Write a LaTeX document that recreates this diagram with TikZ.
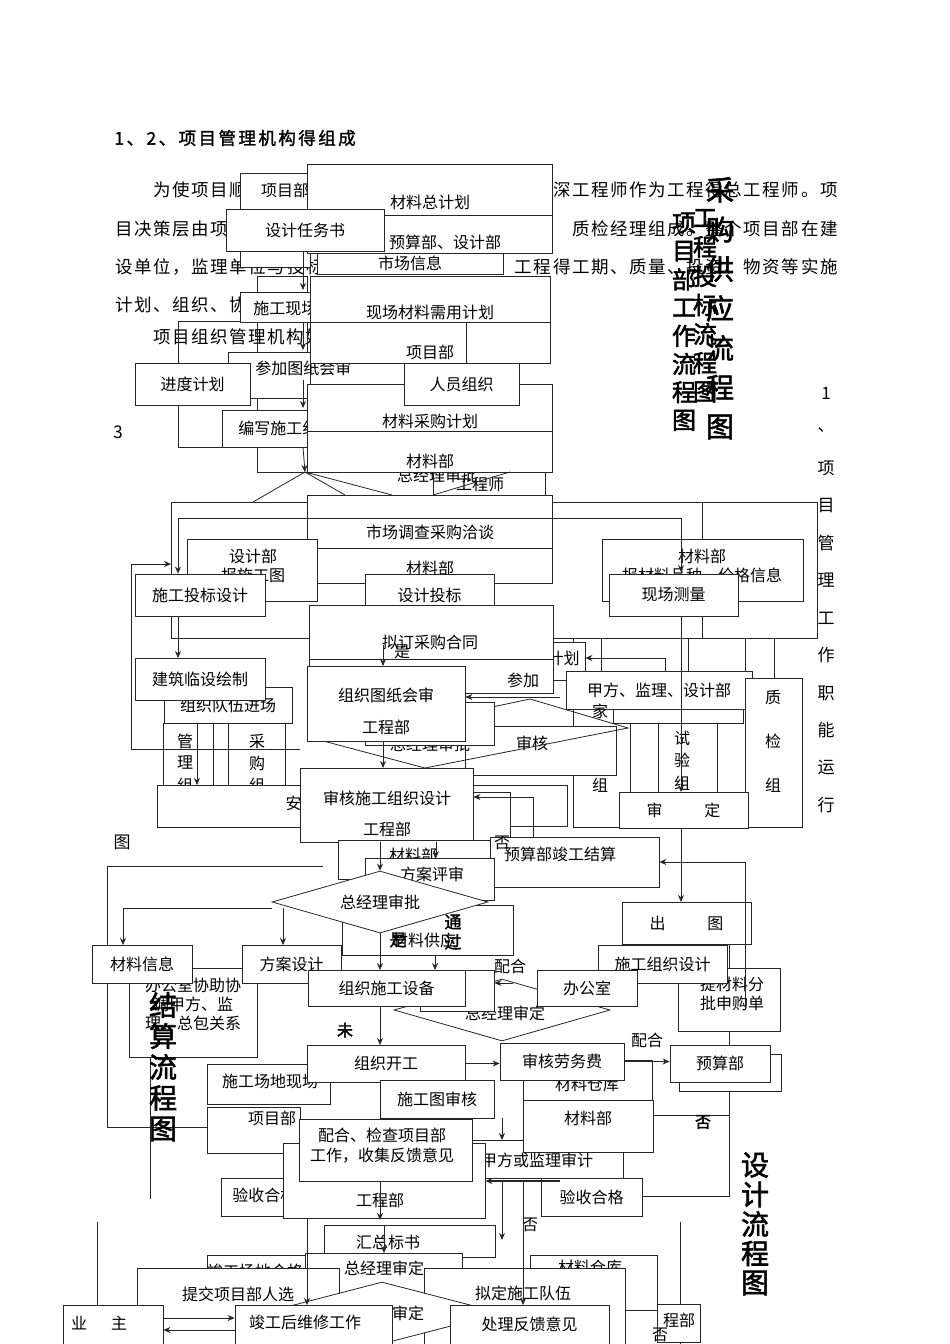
\documentclass[tikz,border=0pt]{standalone}
\usepackage{fontspec}
\setmainfont{Noto Sans CJK SC}
\newfontfamily\ttlfont[FakeBold=2]{Noto Sans CJK SC}
\newfontfamily\parafam[LetterSpace=9]{Noto Sans CJK SC}
\newfontfamily\headfam[LetterSpace=14,FakeBold=1.5]{Noto Sans CJK SC}
\usetikzlibrary{arrows.meta,shapes.geometric}
\newcommand\boxfont{\fontsize{16}{16}\selectfont}

\begin{document}
\begin{tikzpicture}[x=1pt,y=-1pt,>={Stealth[length=7pt,width=6pt]},line width=0.8pt,draw=black!85,
 box/.style={draw,fill=white,inner sep=0pt,font=\boxfont},
 lbl/.style={inner sep=0pt,font=\boxfont},
 para/.style={inner sep=0pt,anchor=west,font=\parafam\fontsize{17.5}{17.5}\selectfont},
 dia/.style={draw,fill=white,diamond,aspect=3.5,inner sep=0pt,font=\boxfont},
 vt/.style={inner sep=0pt,font=\ttlfont\fontsize{26}{26}\selectfont},
 vs/.style={inner sep=0pt,font=\fontsize{17}{17}\selectfont}]
\useasboundingbox (0,0) rectangle (950,1344);

% text of the page
\node[para,font=\headfam\fontsize{17.5}{17.5}\selectfont](hd)at(114,138){1、2、项目管理机构得组成};
\node[para](p1a)at(153,190){为使项目顺};
\node[para,anchor=east](p1b)at(838,190){深工程师作为工程得总工程师。项};
\node[para](p2a)at(115,229){目决策层由项};
\node[para,anchor=east](p2b)at(838,229){质检经理组成。整个项目部在建};
\node[para](p3a)at(115,267){设单位，监理单位与投标};
\node[para,anchor=east](p3b)at(838,267){工程得工期、质量、投资、物资等实施};
\node[para](p4a)at(115,305){计划、组织、协调};
\node[para](p5a)at(153,337){项目组织管理机构如};
\node[para](n3)at(113,432){3};

% top flow
\draw (178,321) rectangle (310,447);
\draw (257,276) rectangle (307,472);
\node[box,minimum width=70,minimum height=94](xmb)at(275,220){};
\node[lbl](xmbT)at(285,190){项目部};
\node[box,minimum width=70,minimum height=30](sgxc)at(275,307){};
\node[lbl,anchor=west](sgxcT)at(253,308){施工现场};
\node[box,minimum width=82,minimum height=46](cjtz)at(269,375){};
\node[lbl,anchor=west](cjtzT)at(255,368){参加图纸会审};
\node[box,minimum width=88,minimum height=37](bxsg)at(266,428.5){};
\node[lbl,anchor=west](bxsgT)at(238,428){编写施工组织设计};
\node[box,minimum width=115,minimum height=42](jdjh)at(192.5,384){进度计划};
\node[box,minimum width=245,minimum height=38](ysb)at(429.5,234){};
\node[lbl](ysbT)at(445,242){预算部、设计部};
\node[box,minimum width=245,minimum height=51](clzjh)at(429.5,189.5){};
\node[lbl](clzjhT)at(430,202){材料总计划};
\node[box,minimum width=158,minimum height=42](sjrw)at(305,230){设计任务书};
\node[box,minimum width=186,minimum height=21](scxx)at(410,263.5){市场信息};
\node[box,minimum width=240,minimum height=87](xcxy)at(430,319.5){};
\draw (310,322)--(550,322);
\node[lbl](xcxyT)at(430,312){现场材料需用计划};
\node[box,minimum width=156,minimum height=41](xmb2)at(388,342.5){};
\node[lbl](xmb2T)at(430,352){项目部};
\node[lbl](zjlT1)at(437,475){总经理审批};
\node[lbl](gcsT)at(480,484){工程师};
\node[box,minimum width=245,minimum height=88](clcg)at(429.5,428){};
\draw (307,431)--(552,431);
\node[lbl](clcgT)at(430,421){材料采购计划};
\node[lbl](clbT)at(430,461){材料部};
\node[box,minimum width=115,minimum height=42](ryzz)at(461.5,384){人员组织};
\coordinate (apx) at (305,472);
\draw (apx)--(253,502) (apx)--(345,495) (apx)--(392,495) (433,495)--(510,472);
\draw (433,472)--(433,495) (545,472)--(545,495);
\draw[->] (303,251)--(303,290);
\draw[->] (303,322)--(303,350);
\draw[->] (303,380)--(303,408);
\draw[->] (303,447)--(apx);

% middle flow
\draw (171,502) rectangle (817,638);
\draw (573,638) rectangle (745,827);
\draw (702,502)--(702,539) (702,616)--(702,638) (774,638)--(774,678);
\draw (601,638)--(601,671) (688,638)--(688,671);
\draw (630,723)--(630,792) (717,723)--(717,792) (658,723)--(658,792);
\draw (163,723)--(163,785) (213,723)--(213,785) (228,723)--(228,785) (285,723)--(285,785);
\node[box,minimum width=245,minimum height=88](scdc)at(429.5,539){};
\draw (307,548)--(552,548);
\node[lbl](scdcT)at(430,532){市场调查采购洽谈};
\node[lbl](clb2T)at(430,568){材料部};
\node[box,minimum width=130,minimum height=62](sjb)at(252,570){};
\node[lbl](sjbT1)at(253,556){设计部};
\node[lbl](sjbT2)at(253,575){报施工图};
\node[box,minimum width=130,minimum height=42](sgtb)at(200,595){施工投标设计};
\node[box,minimum width=129,minimum height=42](sjtb)at(429.5,595){设计投标};
\node[box,minimum width=201,minimum height=62](clbb)at(702.5,570){};
\node[lbl](clbbT1)at(702,556){材料部};
\node[lbl](clbbT2)at(702,575){报材料品种、价格信息};
\node[box,minimum width=129,minimum height=42](xccl)at(673.5,595){现场测量};
\draw[->] (178,518)--(681,518)--(681,572);
\draw[->] (178,518)--(sgtb.north -| 178,0);
\node[box,minimum width=65,minimum height=38](jh2)at(552.5,661){};
\node[lbl,anchor=east](jh2T)at(580,658){计划};
\node[box,minimum width=244,minimum height=88](ndcg)at(431,649){};
\draw (309,659)--(553,659);
\node[lbl](ndcgT)at(430,642){拟订采购合同};
\node[lbl](shi1)at(402,652){是};
\node[lbl](cj2)at(523,680){参加};
\node[box,minimum width=130,minimum height=33](jfs)at(678,706.5){};
\node[box,minimum width=186,minimum height=38](jfjl)at(659,690){甲方、监理、设计部};
\node[box,minimum width=57,minimum height=149](zjz)at(773.5,752.5){};
\foreach \c/\y [count=\i] in {质/697,检/741,组/785} \node[lbl](zj\i)at(773,\y){\c};
\foreach \c/\y [count=\i] in {试/738,验/760,组/783} \node[lbl](sy\i)at(682,\y){\c};
\node[lbl](jia)at(600,711){家};
\node[lbl](zu1)at(600,785){组};
\node[box,minimum width=128,minimum height=36](zzdw)at(228,705){组织队伍进场};
\node[box,minimum width=130,minimum height=42](jzls)at(200,679){建筑临设绘制};
\foreach \c/\y [count=\i] in {管/741,理/763,组/785} \node[lbl](gl\i)at(185,\y){\c};
\foreach \c/\y [count=\i] in {采/741,购/763,组/785} \node[lbl](cgz\i)at(257,\y){\c};
\node[box,minimum width=143,minimum height=42](anq)at(228.5,806){};
\node[lbl,anchor=east](anqT)at(302,803){安};
\node[box,minimum width=151,minimum height=49](shk)at(540.5,750.5){};
\node[lbl](shkT)at(532,743){审核};
\node[lbl](zjlT2)at(430,744){总经理审批};
\draw (327,742)--(530,699)--(628,728)--(425,768)--cycle;
\node[box,minimum width=129,minimum height=43](zzs)at(429.5,723.5){};
\node[box,minimum width=158,minimum height=75](zztz)at(386,703.5){};
\node[lbl](zztzT1)at(386,695){组织图纸会审};
\node[lbl](zztzT2)at(386,727){工程部};
\node[box,minimum width=97,minimum height=41](shr)at(518.5,805.5){};
\node[box,minimum width=70,minimum height=58](shr2)at(475,821){};
\node[box,minimum width=173,minimum height=74](shsg)at(386.5,805){};
\node[lbl](shsgT1)at(387,798){审核施工组织设计};
\node[lbl](shsgT2)at(387,829){工程部};
\node[box,minimum width=129,minimum height=36](shd)at(683.5,810){审\hspace{2.6em}定};
\draw[->] (300,749)--(131,749)--(131,564)--(171,564);
\draw[->] (178,616)--(178,658);
\draw[->] (383,645)--(383,666);
\draw[->] (383,741)--(383,768);
\draw[->] (560,697)--(zztz.east |- 0,697);
\draw[->] (533,850)--(533,797)--(shsg.east |- 0,797);
\draw[->] (665,671)--(665,658)--(jh2.east |- 0,658);
\draw[->] (197,723)--(197,785);
\draw[->] (681,616)--(681,792);
\node[vs](tu1)at(122,842){图};

% lower flow
\draw (107,866)--(323,866) (107,866)--(107,1127)--(207,1127);
\draw (150,945)--(150,1199);
\draw (97,1222)--(97,1305) (680,1222)--(680,1344);
\draw (729,944)--(729,1196)--(642,1196) (653,1115)--(729,1115);
\node[box,minimum width=172,minimum height=39](clb3)at(424,859.5){};
\node[lbl](clb3T)at(413,855){材料部};
\node[box,minimum width=169,minimum height=50](ysjg)at(574.5,862){};
\node[lbl](ysjgT)at(560,854){预算部竣工结算};
\node[box,minimum width=129,minimum height=42](faps)at(429.5,879){};
\node[lbl](fapsT)at(432,874){方案评审};
\node[box,minimum width=171,minimum height=50](clgy)at(427.5,930.5){};
\node[lbl](clgyT)at(424,940){材料供应};
\node[dia,minimum width=216,minimum height=62](zjsp)at(380,902){总经理审批};
\node[vt,font=\ttlfont\fontsize{17}{17}\selectfont](shi2)at(398,940){是};
\node[vt,font=\ttlfont\fontsize{17}{17}\selectfont](tg1)at(453,922){通};
\node[vt,font=\ttlfont\fontsize{17}{17}\selectfont](tg2)at(453,942){过};
\node[box,minimum width=129,minimum height=42](chut)at(686.5,923){出\hspace{2.6em}图};
\node[box,minimum width=128,minimum height=89](bgsx)at(193,1012.5){};
\node[lbl,align=center,font=\fontsize{16}{19}\selectfont](bgsxT)at(193,1004){办公室协助协\\调甲方、监\\理、总包关系};
\node[box,minimum width=100,minimum height=38](clxx)at(142,964){材料信息};
\node[box,minimum width=99,minimum height=38](fasj)at(291.5,964){方案设计};
\node[box,minimum width=102,minimum height=63](tcl)at(729,999.5){};
\node[lbl,align=center,font=\fontsize{16}{19}\selectfont](tclT)at(732,994){提材料分\\批申购单};
\node[box,minimum width=129,minimum height=38](sgzz)at(662.5,964){施工组织设计};
\node[dia,minimum width=216,minimum height=62](zjsd)at(502,1010){};
\node[lbl](zjsdT)at(505,1013){总经理审定};
\node[box,minimum width=74,minimum height=41](zzsb2)at(457,990.5){};
\node[box,minimum width=157,minimum height=36](zzsb)at(386.5,988){组织施工设备};
\node[box,minimum width=100,minimum height=36](bgs)at(587,988){办公室};
\node[lbl](ph1)at(510,966){配合};
\node[lbl](ph2)at(647,1040){配合};
\node[vt,font=\ttlfont\fontsize{16}{16}\selectfont](wei)at(345,1030){未};
\node[box,minimum width=129,minimum height=40](clck)at(587.5,1080){};
\node[lbl](clckT)at(587,1084){材料仓库};
\node[box,minimum width=123,minimum height=40](sgcd)at(268.5,1084){};
\node[lbl](sgcdT)at(270,1081){施工场地现场};
\node[box,minimum width=158,minimum height=37](zzkg)at(386,1063.5){组织开工};
\node[box,minimum width=124,minimum height=37](shlw)at(562,1061.5){审核劳务费};
\node[box,minimum width=102,minimum height=37](ysb3s)at(730,1072.5){};
\node[box,minimum width=100,minimum height=37](ysb3)at(720,1063.5){预算部};
\node[box,minimum width=114,minimum height=38](sgtsh)at(437,1099){施工图审核};
\node[box,minimum width=153,minimum height=38](jfsj)at(546.5,1159){};
\node[lbl](jfsjT)at(537,1160){甲方或监理审计};
\node[box,minimum width=130,minimum height=52](clb4)at(588,1126){};
\node[lbl](clb4T)at(588,1118){材料部};
\node[box,minimum width=93,minimum height=46](xmb4)at(253.5,1130){};
\node[lbl](xmb4T)at(272,1118){项目部};
\node[box,minimum width=79,minimum height=38](ysh1)at(260.5,1197){};
\node[lbl,anchor=west](ysh1T)at(232,1195){验收合格};
\node[box,minimum width=202,minimum height=75](gcb5)at(384,1180.5){};
\node[lbl](gcb5T)at(380,1200){工程部};
\node[box,minimum width=173,minimum height=62](phjc)at(385.5,1150.5){};
\node[lbl,align=center,font=\fontsize{16}{20}\selectfont](phjcT)at(382,1146){配合、检查项目部\\工作，收集反馈意见};
\node[box,minimum width=101,minimum height=38](ysh2)at(591.5,1197){验收合格};
\node[box,minimum width=171,minimum height=32](hzbs)at(409.5,1241){};
\node[lbl](hzbsT)at(388,1242){汇总标书};
\node[box,minimum width=98,minimum height=40](jgcd)at(256,1275){};
\node[lbl](jgcdT)at(255,1271){竣工场地合格};
\node[box,minimum width=157,minimum height=65](zjsd2)at(383.5,1285.5){};
\node[lbl](zjsd2T)at(384,1268){总经理审定};
\node[box,minimum width=127,minimum height=55](clck2)at(593.5,1282.5){};
\node[lbl](clck2T)at(590,1267){材料仓库};
\node[box,minimum width=202,minimum height=76](tjxm)at(238,1306){};
\node[lbl](tjxmT)at(238,1294){提交项目部人选};
\node[box,minimum width=201,minimum height=76](ndsg)at(524.5,1306){};
\node[lbl](ndsgT)at(523,1293){拟定施工队伍};
\node[dia,minimum width=238,minimum height=62](zjsd3)at(382,1313){};
\node[lbl](zjsd3T)at(384,1313){总经理审定};
\node[box,minimum width=100,minimum height=39](yz)at(113,1324.5){};
\node[lbl](yzT)at(99,1323){业\hspace{1.5em}主};
\node[box,minimum width=157,minimum height=39](jgwx)at(313.5,1324.5){};
\node[lbl](jgwxT)at(305,1322){竣工后维修工作};
\node[box,minimum width=159,minimum height=39](clfk)at(529.5,1324.5){处理反馈意见};
\node[box,minimum width=43,minimum height=38](cb)at(678.5,1323){};
\node[lbl](cbT)at(679,1320){程部};
\node[lbl](fou1)at(502,843){否};
\node[vt,font=\ttlfont\fontsize{16}{16}\selectfont](fou2)at(703,1122){否};
\node[lbl](fou3)at(530,1225){否};
\node[lbl](fou4)at(660,1335){否};
\draw[->] (shsg.south -| zjsp.north)--(zjsp.north);
\draw[->] (436,842)--(436,858);
\draw[->] (272,908)-|(123,945);
\draw[->] (283,908)--(283,945);
\draw[->] (zjsp.south)--(380,970);
\draw[->] (435,955)--(435,970);
\draw[->] (380,1006)--(380,1045);
\draw[->] (513,983)--(zzsb2.east |- 0,983);
\draw[->] (zzkg.east)--(zzkg.east -| shlw.west);
\draw[->] (shlw.east)--(shlw.east -| ysb3.west);
\draw[->] (681,828)--(681,902);
\draw[->] (745,1010)--(745,862)--(ysjg.east);
\draw[->] (380,1182)--(380,1220);
\draw[->] (384,1225)--(384,1253);
\draw[->] (307,1218)--(307,1305);
\draw[->] (523,1181)--(523,1305);
\draw[->] (502,1118)--(502,1140);
\draw[->] (502,1181)--(502,1240);
\draw[->,line width=1.4pt] (560,1181)--(gcb5.east |- 0,1181);
\draw[->] (yz.east |- 0,1318)--(jgwx.west |- 0,1318);
\draw[->] (jgwx.west |- 0,1330)--(yz.east |- 0,1330);

% titles
\foreach \c [count=\i] in {项,目,部,工,作,流,程,图} \node[vt,font=\ttlfont\fontsize{24}{24}\selectfont](xmt\i)at(684,{223+(\i-1)*28.2}){\c};
\foreach \c [count=\i] in {工,程,投,标,流,程,图} \node[vt,font=\ttlfont\fontsize{24}{24}\selectfont](tbt\i)at(705,{218+(\i-1)*29}){\c};
\foreach \c [count=\i] in {采,购,供,应,流,程,图} \node[vt,font=\ttlfont\fontsize{28}{28}\selectfont](cgt\i)at(720,{190+(\i-1)*39.5}){\c};
\foreach \c [count=\i] in {1,、,项,目,管,理,工,作,职,能,运,行} \node[vs](znt\i)at(826,{393+(\i-1)*37.5}){\c};
\foreach \c [count=\i] in {结,算,流,程,图} \node[vt,font=\ttlfont\fontsize{28}{28}\selectfont](jst\i)at(163,{1005+(\i-1)*31}){\c};
\foreach \c [count=\i] in {设,计,流,程,图} \node[vt,font=\ttlfont\fontsize{28}{28}\selectfont](sjt\i)at(755,{1165+(\i-1)*29.5}){\c};
\end{tikzpicture}
\end{document}
